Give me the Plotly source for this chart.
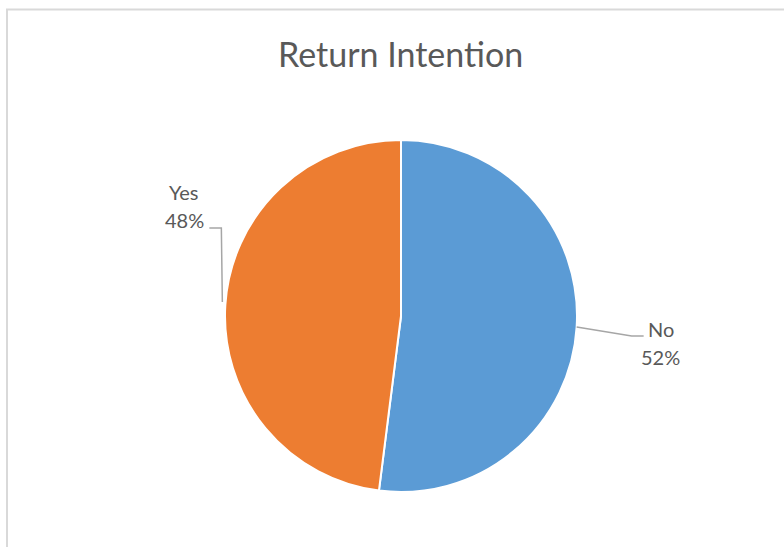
import math
import plotly.graph_objects as go

# Survey answers
categories = ["No", "Yes"]
shares = [52, 48]
colors = ["#5B9BD5", "#ED7D31"]

W, H = 784, 547
CX, CY, R = 401, 316, 176  # pie centre / radius in pixels

def px(x):
    return x / W

def py(y):
    return 1 - y / H

fig = go.Figure()
fig.add_trace(go.Pie(
    labels=categories,
    values=shares,
    sort=False,
    direction="clockwise",
    rotation=0,
    marker=dict(colors=colors, line=dict(color="white", width=2)),
    textinfo="none",
    hoverinfo="label+percent",
    showlegend=False,
    domain=dict(x=[px(CX - R), px(CX + R)], y=[py(CY + R), py(CY - R)]),
))

# Outside labels with elbow leader lines
total = sum(shares)
start = 0.0
label_style = dict(family="Lato, Carlito, sans-serif", size=20, color="#595959")
shapes = []
annotations = []
for name, v in zip(categories, shares):
    frac = v / total
    mid = (start + frac / 2) * 2 * math.pi
    start += frac
    ex = CX + R * math.sin(mid)
    ey = CY - R * math.cos(mid)
    pct = f"{round(frac * 100)}%"
    if math.sin(mid) > 0:
        pts = [(ex, ey), (ex + 55, ey + 9), (ex + 67, ey + 9)]
        tx, ty = ex + 84, ey + 16
    else:
        pts = [(ex - 3, ey - 3), (ex - 4, ey - 77), (ex - 16, ey - 77)]
        tx, ty = ex - 41, ey - 99
    path = "M " + " L ".join(f"{px(a)},{py(b)}" for a, b in pts)
    shapes.append(dict(type="path", path=path, xref="paper", yref="paper",
                       line=dict(color="#A6A6A6", width=1.5)))
    for text, dy in ((name, -14), (pct, 14)):
        annotations.append(dict(text=text, x=px(tx), y=py(ty + dy),
                                xref="paper", yref="paper", showarrow=False,
                                xanchor="center", yanchor="middle",
                                font=label_style, align="center"))

# Chart frame
shapes.append(dict(type="rect", xref="paper", yref="paper",
                   x0=px(7), y0=py(560), x1=px(800), y1=py(9.5),
                   line=dict(color="#D9D9D9", width=2), layer="below"))

fig.update_layout(
    width=W, height=H,
    margin=dict(l=0, r=0, t=0, b=0),
    paper_bgcolor="white",
    plot_bgcolor="white",
    title=dict(text="Return Intention", x=0.511, xanchor="center",
               y=py(55), yanchor="middle",
               font=dict(family="Lato, Carlito, sans-serif", size=34, color="#595959")),
    shapes=shapes,
    annotations=annotations,
)

fig.write_html("out.html")
